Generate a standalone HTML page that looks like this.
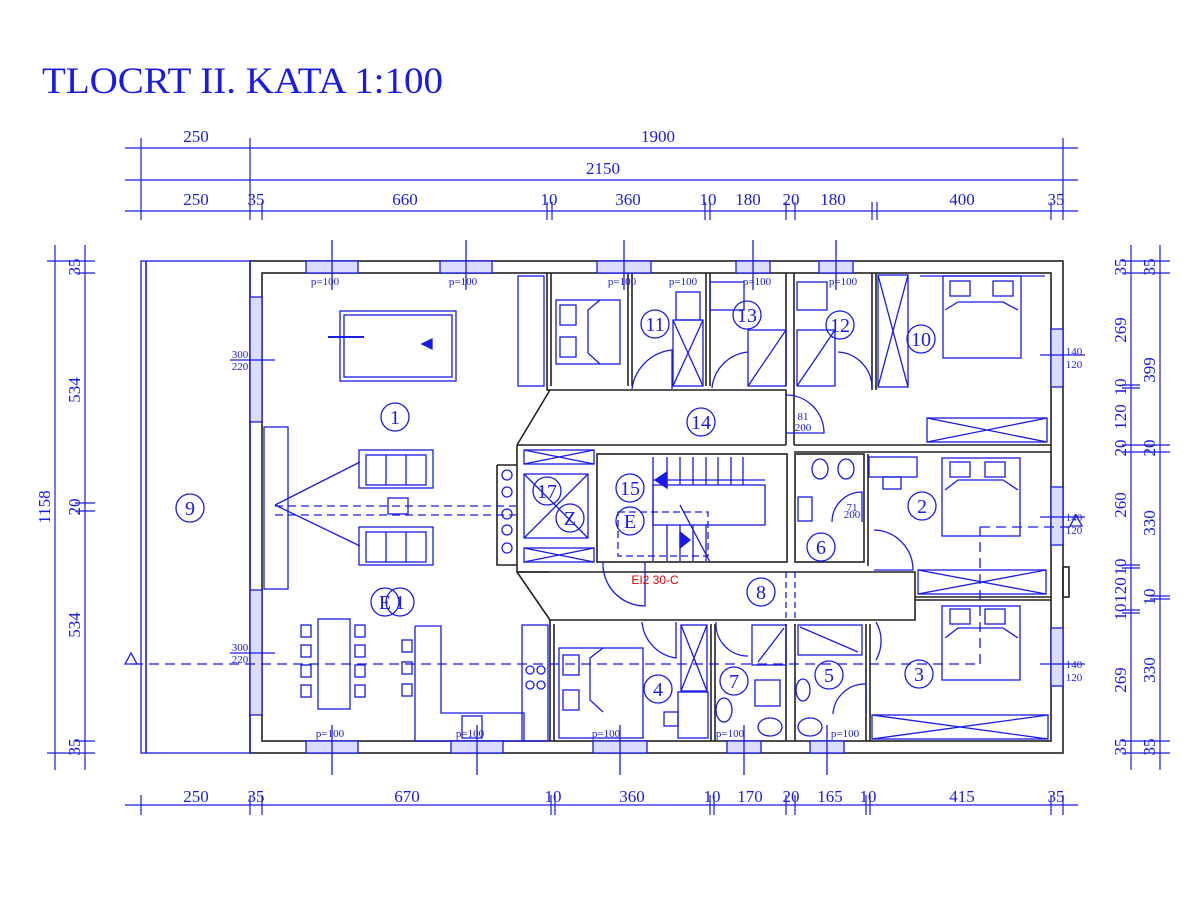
<!DOCTYPE html>
<html><head><meta charset="utf-8"><style>
html,body{margin:0;padding:0;background:#fff;}
svg{display:block}
text{font-family:"Liberation Serif",serif;fill:#1a1ae6}
.s{font-family:"Liberation Sans",sans-serif}
</style></head><body>
<svg width="1200" height="900" viewBox="0 0 1200 900" xmlns="http://www.w3.org/2000/svg">
<rect width="1200" height="900" fill="#fff"/>
<text x="42" y="93" font-size="37" textLength="401" lengthAdjust="spacingAndGlyphs">TLOCRT II. KATA 1:100</text>

<g stroke="#1a1ae6" stroke-width="1.2" fill="none">
<line x1="125" y1="148" x2="1078" y2="148"/>
<line x1="125" y1="180" x2="1078" y2="180"/>
<line x1="125" y1="211" x2="1078" y2="211"/>
<g>
<line x1="141" y1="138" x2="141" y2="220"/><line x1="250" y1="138" x2="250" y2="220"/><line x1="1063" y1="138" x2="1063" y2="220"/>
<line x1="262" y1="202" x2="262" y2="220"/><line x1="547" y1="202" x2="547" y2="220"/><line x1="552" y1="202" x2="552" y2="220"/>
<line x1="705" y1="202" x2="705" y2="220"/><line x1="710" y1="202" x2="710" y2="220"/><line x1="786" y1="202" x2="786" y2="220"/><line x1="795" y1="202" x2="795" y2="220"/>
<line x1="872" y1="202" x2="872" y2="220"/><line x1="877" y1="202" x2="877" y2="220"/><line x1="1051" y1="202" x2="1051" y2="220"/>
</g>
<line x1="125" y1="805" x2="1078" y2="805"/>
<line x1="141" y1="795" x2="141" y2="815"/><line x1="250" y1="795" x2="250" y2="815"/><line x1="262" y1="795" x2="262" y2="815"/>
<line x1="551" y1="795" x2="551" y2="815"/><line x1="555" y1="795" x2="555" y2="815"/><line x1="710" y1="795" x2="710" y2="815"/><line x1="714" y1="795" x2="714" y2="815"/>
<line x1="786" y1="795" x2="786" y2="815"/><line x1="795" y1="795" x2="795" y2="815"/><line x1="866" y1="795" x2="866" y2="815"/><line x1="870" y1="795" x2="870" y2="815"/>
<line x1="1051" y1="795" x2="1051" y2="815"/><line x1="1063" y1="795" x2="1063" y2="815"/>
<line x1="55" y1="245" x2="55" y2="770"/><line x1="85" y1="245" x2="85" y2="770"/>
<line x1="47" y1="261" x2="95" y2="261"/><line x1="47" y1="753" x2="95" y2="753"/>
<line x1="75" y1="273" x2="95" y2="273"/><line x1="75" y1="741" x2="95" y2="741"/><line x1="75" y1="503" x2="95" y2="503"/><line x1="75" y1="511" x2="95" y2="511"/>
<line x1="1131" y1="245" x2="1131" y2="770"/><line x1="1160" y1="245" x2="1160" y2="770"/>
<line x1="1122" y1="261" x2="1170" y2="261"/><line x1="1122" y1="273" x2="1170" y2="273"/>
<line x1="1122" y1="741" x2="1170" y2="741"/><line x1="1122" y1="753" x2="1170" y2="753"/>
<line x1="1122" y1="445" x2="1170" y2="445"/><line x1="1122" y1="452" x2="1170" y2="452"/>
<line x1="1122" y1="385" x2="1140" y2="385"/><line x1="1122" y1="388" x2="1140" y2="388"/>
<line x1="1122" y1="565" x2="1140" y2="565"/><line x1="1122" y1="568" x2="1140" y2="568"/>
<line x1="1122" y1="610" x2="1140" y2="610"/><line x1="1122" y1="613" x2="1140" y2="613"/>
<line x1="1150" y1="596" x2="1170" y2="596"/><line x1="1150" y1="599" x2="1170" y2="599"/>
</g>
<g font-size="17" text-anchor="middle">
<text x="196" y="142">250</text><text x="658" y="142">1900</text><text x="603" y="174">2150</text>
<text x="196" y="205">250</text><text x="256" y="205">35</text><text x="405" y="205">660</text><text x="549" y="205">10</text><text x="628" y="205">360</text><text x="708" y="205">10</text><text x="748" y="205">180</text><text x="791" y="205">20</text><text x="833" y="205">180</text><text x="962" y="205">400</text><text x="1056" y="205">35</text>
<text x="196" y="802">250</text><text x="256" y="802">35</text><text x="407" y="802">670</text><text x="553" y="802">10</text><text x="632" y="802">360</text><text x="712" y="802">10</text><text x="750" y="802">170</text><text x="791" y="802">20</text><text x="830" y="802">165</text><text x="868" y="802">10</text><text x="962" y="802">415</text><text x="1056" y="802">35</text>
<g transform="rotate(-90)">
<text x="-507" y="50">1158</text><text x="-390" y="80">534</text><text x="-625" y="80">534</text><text x="-507" y="80">20</text><text x="-267" y="80">35</text><text x="-747" y="80">35</text>
<text x="-267" y="1126">35</text><text x="-330" y="1126">269</text><text x="-387" y="1126">10</text><text x="-417" y="1126">120</text><text x="-448" y="1126">20</text><text x="-505" y="1126">260</text><text x="-567" y="1126">10</text><text x="-590" y="1126">120</text><text x="-612" y="1126">10</text><text x="-680" y="1126">269</text><text x="-747" y="1126">35</text>
<text x="-267" y="1155">35</text><text x="-370" y="1155">399</text><text x="-448" y="1155">20</text><text x="-523" y="1155">330</text><text x="-597" y="1155">10</text><text x="-670" y="1155">330</text><text x="-747" y="1155">35</text>
</g>
</g>

<g stroke="#222" stroke-width="1.6" fill="none">
<rect x="250" y="261" width="813" height="492"/>
<rect x="262" y="273" width="789" height="468"/>
<rect x="141" y="261" width="109" height="492" stroke="#1a1ae6" stroke-width="1.3"/>
<line x1="146" y1="261" x2="146" y2="753" stroke="#1a1ae6"/>
<polyline points="547,273 547,390 786,390 786,445"/>
<polyline points="551,273 551,386"/>
<polyline points="628,273 628,386"/><polyline points="632,273 632,386"/>
<polyline points="706,273 706,386"/><polyline points="710,273 710,386"/>
<polyline points="786,273 786,386"/><polyline points="794,273 794,445"/>
<polyline points="872,273 872,390"/><polyline points="876,273 876,390"/>
<line x1="794" y1="445" x2="1051" y2="445"/><line x1="794" y1="452" x2="1051" y2="452"/>
<polyline points="517,445 786,445"/><polyline points="517,445 517,572 550,572"/>
<polyline points="497,465 517,465"/><polyline points="497,465 497,565 517,565"/>
<rect x="597" y="454" width="190" height="108"/>
<rect x="795" y="454" width="69" height="108"/>
<polyline points="868,454 868,566"/>
<polyline points="517,572 915,572 915,620 550,620"/>
<line x1="550" y1="620" x2="550" y2="741"/><line x1="554" y1="624" x2="554" y2="741"/>
<line x1="711" y1="624" x2="711" y2="741"/><line x1="715" y1="624" x2="715" y2="741"/>
<line x1="786" y1="624" x2="786" y2="741"/><line x1="795" y1="624" x2="795" y2="741"/>
<line x1="866" y1="624" x2="866" y2="741"/><line x1="870" y1="624" x2="870" y2="741"/>
<line x1="915" y1="597" x2="1051" y2="597"/><line x1="915" y1="600" x2="1051" y2="600"/>
<line x1="517" y1="445" x2="550" y2="390"/><line x1="517" y1="572" x2="550" y2="620"/>
<rect x="1063" y="567" width="6" height="30"/>
</g>

<g stroke="#1a1ae6" stroke-width="1.3" fill="none">
<rect x="306" y="261" width="52" height="12" fill="#dcdcff"/><rect x="440" y="261" width="52" height="12" fill="#dcdcff"/>
<rect x="597" y="261" width="54" height="12" fill="#dcdcff"/><rect x="736" y="261" width="34" height="12" fill="#dcdcff"/><rect x="819" y="261" width="34" height="12" fill="#dcdcff"/>
<rect x="306" y="741" width="52" height="12" fill="#dcdcff"/><rect x="451" y="741" width="52" height="12" fill="#dcdcff"/>
<rect x="593" y="741" width="54" height="12" fill="#dcdcff"/><rect x="727" y="741" width="34" height="12" fill="#dcdcff"/><rect x="810" y="741" width="34" height="12" fill="#dcdcff"/>
<rect x="250" y="297" width="12" height="125" fill="#dcdcff"/><rect x="250" y="590" width="12" height="125" fill="#dcdcff"/>
<rect x="1051" y="329" width="12" height="58" fill="#dcdcff"/><rect x="1051" y="487" width="12" height="58" fill="#dcdcff"/><rect x="1051" y="628" width="12" height="58" fill="#dcdcff"/>
<line x1="332" y1="240" x2="332" y2="290"/><line x1="466" y1="240" x2="466" y2="290"/><line x1="624" y1="240" x2="624" y2="290"/><line x1="753" y1="240" x2="753" y2="290"/><line x1="836" y1="240" x2="836" y2="290"/>
<line x1="332" y1="725" x2="332" y2="775"/><line x1="477" y1="725" x2="477" y2="775"/><line x1="620" y1="725" x2="620" y2="775"/><line x1="744" y1="725" x2="744" y2="775"/><line x1="827" y1="725" x2="827" y2="775"/>
<line x1="230" y1="360" x2="275" y2="360"/><line x1="230" y1="653" x2="275" y2="653"/>
<line x1="1040" y1="355" x2="1085" y2="355"/><line x1="1040" y1="517" x2="1085" y2="517"/><line x1="1040" y1="664" x2="1085" y2="664"/>
<rect x="340" y="311" width="116" height="70"/><rect x="344" y="315" width="108" height="62"/>
<line x1="328" y1="337" x2="364" y2="337" stroke-width="2"/>
<polygon points="422,344 432,339 432,349" fill="#1a1ae6"/>
<rect x="518" y="276" width="26" height="110"/>
<rect x="359" y="450" width="74" height="38"/><rect x="366" y="455" width="60" height="30"/><line x1="386" y1="455" x2="386" y2="485"/><line x1="406" y1="455" x2="406" y2="485"/>
<rect x="359" y="527" width="74" height="38"/><rect x="366" y="532" width="60" height="30"/><line x1="386" y1="532" x2="386" y2="562"/><line x1="406" y1="532" x2="406" y2="562"/>
<rect x="388" y="498" width="20" height="16"/>
<rect x="264" y="427" width="24" height="162"/>
<line x1="275" y1="505" x2="360" y2="462"/><line x1="275" y1="505" x2="360" y2="546"/>
<line x1="275" y1="506" x2="516" y2="506" stroke-dasharray="8,5"/>
<line x1="275" y1="515" x2="516" y2="515" stroke-dasharray="8,5"/>
<rect x="318" y="619" width="32" height="90"/>
<rect x="301" y="625" width="10" height="12"/><rect x="301" y="645" width="10" height="12"/><rect x="301" y="665" width="10" height="12"/><rect x="301" y="685" width="10" height="12"/>
<rect x="355" y="625" width="10" height="12"/><rect x="355" y="645" width="10" height="12"/><rect x="355" y="665" width="10" height="12"/><rect x="355" y="685" width="10" height="12"/>
<rect x="402" y="640" width="10" height="12"/><rect x="402" y="662" width="10" height="12"/><rect x="402" y="684" width="10" height="12"/>
<polyline points="415,626 441,626 441,713 524,713 524,741 415,741 415,626"/>
<rect x="522" y="625" width="26" height="116"/>
<circle cx="530" cy="670" r="4"/><circle cx="541" cy="670" r="4"/><circle cx="530" cy="685" r="4"/><circle cx="541" cy="685" r="4"/>
<rect x="462" y="716" width="20" height="22"/>
<line x1="133" y1="664" x2="980" y2="664" stroke-dasharray="10,6"/>
<line x1="980" y1="664" x2="980" y2="527" stroke-dasharray="10,6"/>
<line x1="980" y1="527" x2="1070" y2="527" stroke-dasharray="10,6"/>
<polygon points="125,664 131,653 137,664"/><polygon points="1070,526 1076,515 1082,526"/>
<rect x="556" y="300" width="64" height="64"/><rect x="560" y="305" width="16" height="20"/><rect x="560" y="337" width="16" height="20"/>
<polyline points="600,300 588,310 588,353 600,364"/>
<rect x="673" y="320" width="30" height="66"/><line x1="673" y1="320" x2="703" y2="386"/><line x1="703" y1="320" x2="673" y2="386"/>
<rect x="676" y="292" width="24" height="28"/>
<path d="M632 389 A45 45 0 0 1 672 350 L672 389"/>
<rect x="710" y="282" width="34" height="28"/>
<rect x="748" y="330" width="38" height="56"/><line x1="748" y1="386" x2="786" y2="330"/>
<path d="M712 388 A40 40 0 0 1 748 352"/>
<rect x="797" y="282" width="30" height="28"/>
<rect x="797" y="330" width="38" height="56"/><line x1="797" y1="386" x2="835" y2="330"/>
<path d="M872 388 A36 36 0 0 0 838 352"/>
<rect x="878" y="275" width="30" height="112"/><line x1="878" y1="275" x2="908" y2="387"/><line x1="908" y1="275" x2="878" y2="387"/>
<rect x="943" y="276" width="78" height="82"/><rect x="950" y="281" width="20" height="15"/><rect x="993" y="281" width="20" height="15"/>
<polyline points="945,310 958,302 1003,302 1018,310"/>
<line x1="920" y1="276" x2="1045" y2="276"/>
<rect x="927" y="418" width="120" height="24"/><line x1="927" y1="418" x2="1047" y2="442"/><line x1="1047" y1="418" x2="927" y2="442"/>
<path d="M786 395 A38 38 0 0 1 824 433 L786 433"/>
<rect x="524" y="450" width="70" height="14"/><line x1="524" y1="450" x2="594" y2="464"/><line x1="594" y1="450" x2="524" y2="464"/>
<rect x="524" y="474" width="64" height="64"/><line x1="524" y1="474" x2="588" y2="538"/><line x1="588" y1="474" x2="524" y2="538"/>
<rect x="524" y="548" width="70" height="14"/><line x1="524" y1="548" x2="594" y2="562"/><line x1="594" y1="548" x2="524" y2="562"/>
<circle cx="507" cy="475" r="5"/><circle cx="507" cy="492" r="5"/><circle cx="507" cy="514" r="5"/><circle cx="507" cy="530" r="5"/><circle cx="507" cy="548" r="5"/>
<line x1="653" y1="457" x2="653" y2="561"/>
<line x1="667" y1="457" x2="667" y2="485"/><line x1="680" y1="457" x2="680" y2="485"/><line x1="693" y1="457" x2="693" y2="485"/><line x1="706" y1="457" x2="706" y2="485"/><line x1="718" y1="457" x2="718" y2="485"/><line x1="731" y1="457" x2="731" y2="485"/><line x1="743" y1="457" x2="743" y2="485"/>
<rect x="653" y="485" width="112" height="40"/>
<line x1="667" y1="525" x2="667" y2="561"/><line x1="680" y1="525" x2="680" y2="561"/><line x1="693" y1="525" x2="693" y2="561"/><line x1="706" y1="525" x2="706" y2="561"/>
<line x1="653" y1="480" x2="765" y2="480"/>
<polygon points="655,480 667,472 667,488" fill="#1a1ae6"/><polygon points="690,540 680,532 680,548" fill="#1a1ae6"/>
<rect x="618" y="512" width="90" height="44" stroke-dasharray="7,4"/>
<line x1="680" y1="505" x2="710" y2="562"/>
<path d="M603 562 A42 42 0 0 0 645 606 L645 562"/>
<ellipse cx="820" cy="469" rx="8" ry="10"/><ellipse cx="846" cy="469" rx="8" ry="10"/>
<rect x="798" y="497" width="14" height="24"/>
<path d="M832 522 A30 30 0 0 1 862 492 L862 522"/>
<rect x="869" y="457" width="48" height="20"/><rect x="883" y="477" width="18" height="12"/>
<rect x="942" y="458" width="78" height="78"/><rect x="950" y="462" width="20" height="15"/><rect x="985" y="462" width="20" height="15"/>
<polyline points="945,490 958,480 1003,480 1018,490"/>
<rect x="918" y="570" width="128" height="24"/><line x1="918" y1="570" x2="1046" y2="594"/><line x1="1046" y1="570" x2="918" y2="594"/>
<path d="M874 530 A40 40 0 0 1 913 570 L874 570"/>
<line x1="786" y1="572" x2="786" y2="620" stroke-dasharray="6,4"/><line x1="795" y1="572" x2="795" y2="620" stroke-dasharray="6,4"/>
<rect x="559" y="648" width="84" height="90"/><rect x="563" y="655" width="16" height="20"/><rect x="563" y="690" width="16" height="20"/>
<polyline points="603,648 590,658 590,700 603,712"/>
<rect x="681" y="625" width="26" height="66"/><line x1="681" y1="625" x2="707" y2="691"/><line x1="707" y1="625" x2="681" y2="691"/>
<rect x="678" y="692" width="30" height="46"/><rect x="664" y="712" width="14" height="14"/>
<path d="M642 622 A40 40 0 0 0 676 658 L676 622"/>
<path d="M716 622 A32 32 0 0 0 748 656"/>
<rect x="752" y="625" width="34" height="40"/><line x1="758" y1="662" x2="784" y2="628"/>
<rect x="755" y="680" width="25" height="26"/><ellipse cx="770" cy="727" rx="12" ry="9"/><ellipse cx="724" cy="710" rx="8" ry="12"/>
<rect x="798" y="625" width="64" height="30"/><line x1="800" y1="627" x2="858" y2="652"/>
<ellipse cx="803" cy="690" rx="7" ry="11"/><ellipse cx="810" cy="727" rx="12" ry="9"/>
<path d="M833 714 A32 32 0 0 1 866 684 L866 714"/>
<path d="M876 622 A38 38 0 0 1 876 660"/>
<rect x="942" y="606" width="78" height="74"/><rect x="950" y="609" width="20" height="15"/><rect x="985" y="609" width="20" height="15"/>
<polyline points="945,638 958,628 1003,628 1018,638"/>
<rect x="872" y="715" width="176" height="24"/><line x1="872" y1="715" x2="1048" y2="739"/><line x1="1048" y1="715" x2="872" y2="739"/>
<circle cx="395" cy="417" r="14"/><circle cx="190" cy="508" r="14"/><circle cx="655" cy="324" r="14"/><circle cx="747" cy="315" r="14"/><circle cx="840" cy="325" r="14"/><circle cx="921" cy="339" r="14"/>
<circle cx="701" cy="422" r="14"/><circle cx="547" cy="491" r="14"/><circle cx="570" cy="518" r="14"/><circle cx="630" cy="488" r="14"/><circle cx="630" cy="521" r="14"/>
<circle cx="821" cy="547" r="14"/><circle cx="922" cy="506" r="14"/><circle cx="761" cy="592" r="14"/><circle cx="658" cy="689" r="14"/><circle cx="734" cy="681" r="14"/><circle cx="829" cy="675" r="14"/><circle cx="919" cy="674" r="14"/>
<circle cx="385" cy="602" r="14"/><circle cx="400" cy="602" r="14"/>
</g>
<g font-size="20" text-anchor="middle">
<text x="395" y="424">1</text><text x="190" y="515">9</text><text x="655" y="331">11</text><text x="747" y="322">13</text><text x="840" y="332">12</text><text x="921" y="346">10</text>
<text x="701" y="429">14</text><text x="547" y="498">17</text><text x="570" y="525">Z</text><text x="630" y="495">15</text><text x="630" y="528">E</text>
<text x="821" y="554">6</text><text x="922" y="513">2</text><text x="761" y="599">8</text><text x="658" y="696">4</text><text x="734" y="688">7</text><text x="829" y="682">5</text><text x="919" y="681">3</text>
<text x="385" y="609">E</text><text x="400" y="609">1</text>
</g>
<g font-size="11" text-anchor="middle">
<text x="325" y="285">p=100</text><text x="463" y="285">p=100</text><text x="622" y="285">p=100</text><text x="683" y="285">p=100</text><text x="757" y="285">p=100</text><text x="843" y="285">p=100</text>
<text x="330" y="737">p=100</text><text x="470" y="737">p=100</text><text x="606" y="737">p=100</text><text x="730" y="737">p=100</text><text x="845" y="737">p=100</text>
<text x="240" y="358">300</text><text x="240" y="370">220</text><text x="240" y="651">300</text><text x="240" y="663">220</text>
<text x="1074" y="355">140</text><text x="1074" y="368">120</text><text x="1074" y="521">140</text><text x="1074" y="534">120</text><text x="1074" y="668">140</text><text x="1074" y="681">120</text>
<text x="803" y="420">81</text><text x="803" y="431">200</text>
<text x="852" y="511">71</text><text x="852" y="518">200</text>
<text class="s" x="655" y="584" style="fill:#e00000" font-size="12">EI2 30-C</text>
</g>
</svg>
</body></html>
